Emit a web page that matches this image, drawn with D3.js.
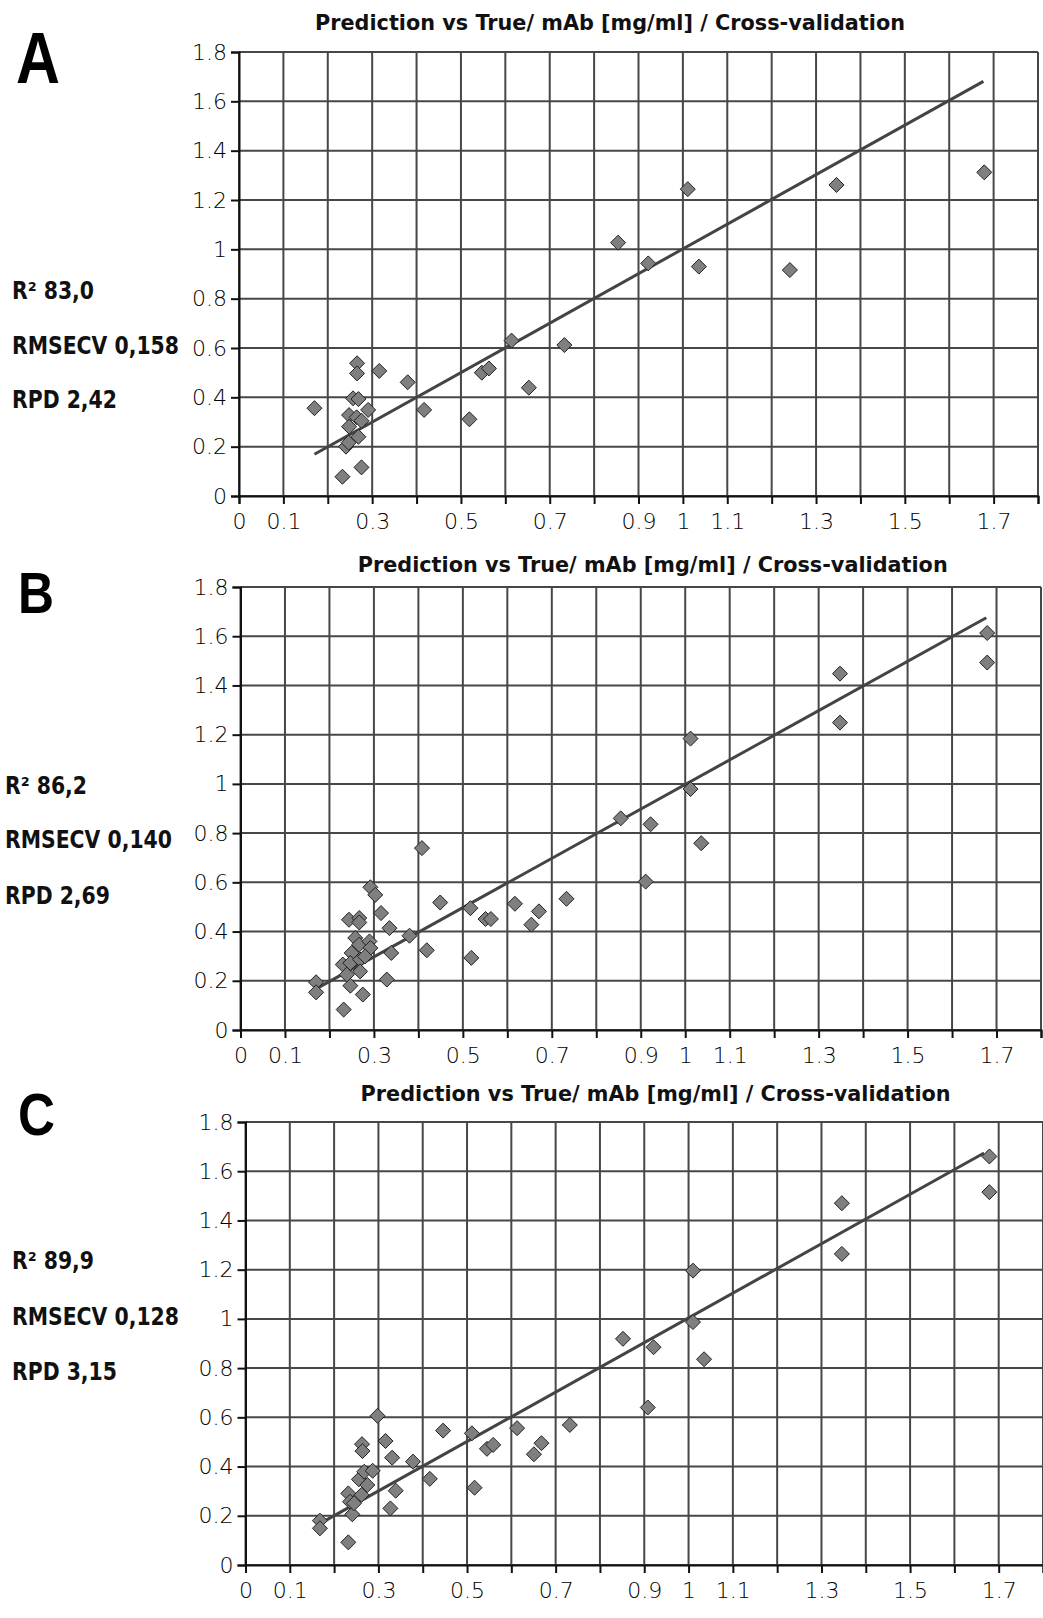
<!DOCTYPE html>
<html><head><meta charset="utf-8">
<script src="https://cdn.jsdelivr.net/npm/d3@7"></script>
<style>body{margin:0;background:#fff}svg{display:block}</style>
</head><body>
<script>
// ---------- data ----------
const chartTitle = "Prediction vs True/ mAb [mg/ml] / Cross-validation";
const panelLetters = ["A", "B", "C"];
const xGridValues = [0,0.1,0.2,0.3,0.4,0.5,0.6,0.7,0.8,0.9,1.0,1.1,1.2,1.3,1.4,1.5,1.6,1.7,1.8];
const yGridValues = [0,0.2,0.4,0.6,0.8,1.0,1.2,1.4,1.6,1.8];
const xTickValues = [0,0.1,0.3,0.5,0.7,0.9,1.0,1.1,1.3,1.5,1.7];
const xTickLabels = ["0","0.1","0.3","0.5","0.7","0.9","1","1.1","1.3","1.5","1.7"];
const yTickValues = [0,0.2,0.4,0.6,0.8,1.0,1.2,1.4,1.6,1.8];
const yTickLabels = ["0","0.2","0.4","0.6","0.8","1","1.2","1.4","1.6","1.8"];

const statsA = ["R\u00b2 83,0", "RMSECV 0,158", "RPD 2,42"];
const statsB = ["R\u00b2 86,2", "RMSECV 0,140", "RPD 2,69"];
const statsC = ["R\u00b2 89,9", "RMSECV 0,128", "RPD 3,15"];

// Panel A: true vs predicted
const trueA = [0.170,0.266,0.266,0.316,0.380,0.257,0.269,0.291,0.248,0.265,0.276,0.248,0.269,0.241,0.247,0.233,0.276,0.417,0.519,0.547,0.563,0.614,0.653,0.733,0.854,0.922,1.011,1.036,1.241,1.346,1.679];
const predA = [0.356,0.538,0.497,0.507,0.461,0.396,0.393,0.349,0.328,0.319,0.305,0.281,0.240,0.200,0.216,0.078,0.116,0.349,0.311,0.500,0.517,0.630,0.439,0.612,1.027,0.943,1.244,0.930,0.916,1.261,1.312];
const lineA = [[0.170, 0.169], [1.677, 1.681]];

// Panel B
const trueB = [0.170,0.170,0.232,0.230,0.244,0.247,0.275,0.267,0.267,0.258,0.267,0.250,0.247,0.269,0.269,0.239,0.290,0.292,0.280,0.292,0.303,0.316,0.335,0.339,0.329,0.380,0.408,0.419,0.449,0.517,0.519,0.551,0.563,0.617,0.654,0.671,0.733,0.855,0.922,0.911,1.012,1.012,1.036,1.348,1.348,1.679,1.679];
const predB = [0.194,0.153,0.083,0.266,0.448,0.180,0.144,0.455,0.437,0.374,0.347,0.313,0.272,0.286,0.238,0.225,0.360,0.333,0.299,0.580,0.549,0.475,0.414,0.313,0.205,0.383,0.739,0.324,0.518,0.495,0.293,0.451,0.451,0.513,0.428,0.482,0.533,0.860,0.836,0.603,1.184,0.979,0.759,1.448,1.249,1.613,1.493];
const lineB = [[0.170, 0.167], [1.677, 1.675]];

// Panel C
const trueC = [0.168,0.168,0.232,0.232,0.241,0.236,0.245,0.256,0.263,0.264,0.268,0.275,0.262,0.287,0.298,0.316,0.331,0.339,0.327,0.378,0.416,0.446,0.511,0.517,0.545,0.559,0.613,0.651,0.668,0.732,0.852,0.921,0.908,1.010,1.010,1.035,1.346,1.346,1.679,1.679];
const predC = [0.180,0.149,0.092,0.291,0.206,0.257,0.251,0.348,0.491,0.463,0.379,0.325,0.285,0.383,0.606,0.504,0.436,0.302,0.230,0.420,0.350,0.546,0.535,0.314,0.472,0.488,0.556,0.450,0.495,0.569,0.919,0.885,0.640,1.196,0.987,0.836,1.470,1.264,1.660,1.515];
const lineC = [[0.170, 0.170], [1.667, 1.674]];

// ---------- layout ----------
const W = 1043, H = 1618;
const panels = [
  {letter: panelLetters[0], xs: trueA, ys: predA, line: lineA, stats: statsA,
   x0: 239, x1: 1038, yBot: 496, yTop: 52,
   titleX: 610, titleY: 30,
   letterX: 16, letterY: 83, letterSize: 72, letterW: 44,
   statX: 12, statY: [299, 354, 408]},
  {letter: panelLetters[1], xs: trueB, ys: predB, line: lineB, stats: statsB,
   x0: 240.5, x1: 1041, yBot: 1030, yTop: 587,
   titleX: 652.7, titleY: 572,
   letterX: 18, letterY: 613, letterSize: 58, letterW: 36,
   statX: 5, statY: [794, 848, 904]},
  {letter: panelLetters[2], xs: trueC, ys: predC, line: lineC, stats: statsC,
   x0: 245.5, x1: 1043, yBot: 1565, yTop: 1122,
   titleX: 655.6, titleY: 1101,
   letterX: 18, letterY: 1135, letterSize: 60, letterW: 37,
   statX: 12, statY: [1269, 1325, 1380]}
];

const svg = d3.select("body").append("svg")
  .attr("width", W).attr("height", H)
  .attr("viewBox", `0 0 ${W} ${H}`);
svg.append("rect").attr("width", W).attr("height", H).attr("fill", "#fff");

const gridColor = "#474747";
const tickFont = "'DejaVu Sans', 'Liberation Sans', sans-serif";

panels.forEach(p => {
  const x = d3.scaleLinear().domain([0, 1.8]).range([p.x0, p.x1]);
  const y = d3.scaleLinear().domain([0, 1.8]).range([p.yBot, p.yTop]);
  const g = svg.append("g");

  // grid
  g.append("g").selectAll("line").data(xGridValues).join("line")
    .attr("x1", d => x(d)).attr("x2", d => x(d))
    .attr("y1", y(0)).attr("y2", y(1.8))
    .attr("stroke", gridColor).attr("stroke-width", 2);
  g.append("g").selectAll("line").data(yGridValues).join("line")
    .attr("x1", x(0)).attr("x2", x(1.8))
    .attr("y1", d => y(d)).attr("y2", d => y(d))
    .attr("stroke", gridColor).attr("stroke-width", 2);

  // x axis
  const xAxis = d3.axisBottom(x).tickValues(xGridValues).tickSize(8).tickFormat(() => "");
  const gx = g.append("g").attr("transform", `translate(0,${y(0)})`).call(xAxis);
  gx.select(".domain").attr("stroke", "#111").attr("stroke-width", 2);
  gx.selectAll(".tick line").attr("stroke", "#111").attr("stroke-width", 2);
  const xLab = d3.axisBottom(x).tickValues(xTickValues).tickSize(0).tickPadding(17)
    .tickFormat((d, i) => xTickLabels[i]);
  const gxl = g.append("g").attr("transform", `translate(0,${y(0)})`).call(xLab);
  gxl.select(".domain").remove();
  gxl.selectAll("text").attr("font-family", tickFont).attr("font-size", 22)
    .attr("font-weight", 200).attr("fill", "#000");

  // y axis
  const yAxis = d3.axisLeft(y).tickValues(yTickValues).tickSize(8).tickPadding(4)
    .tickFormat((d, i) => yTickLabels[i]);
  const gy = g.append("g").attr("transform", `translate(${x(0)},0)`).call(yAxis);
  gy.select(".domain").attr("stroke", "#111").attr("stroke-width", 2);
  gy.selectAll(".tick line").attr("stroke", "#111").attr("stroke-width", 2);
  gy.selectAll("text").attr("font-family", tickFont).attr("font-size", 22)
    .attr("font-weight", 200).attr("fill", "#000");

  // target line
  g.append("line")
    .attr("x1", x(p.line[0][0])).attr("y1", y(p.line[0][1]))
    .attr("x2", x(p.line[1][0])).attr("y2", y(p.line[1][1]))
    .attr("stroke", "#444").attr("stroke-width", 3);

  // diamonds
  const pts = p.xs.map((v, i) => [v, p.ys[i]]);
  const r = 7.5;
  g.append("g").selectAll("path").data(pts).join("path")
    .attr("transform", d => `translate(${x(d[0])},${y(d[1])})`)
    .attr("d", `M0,${-r}L${r},0L0,${r}L${-r},0Z`)
    .attr("fill", "#7f7f7f").attr("stroke", "#222").attr("stroke-width", 1);

  // title
  svg.append("text").attr("x", p.titleX).attr("y", p.titleY)
    .attr("text-anchor", "middle")
    .attr("font-family", "'DejaVu Sans', sans-serif").attr("font-weight", "bold")
    .attr("font-size", 21).attr("fill", "#111")
    .attr("textLength", 590).attr("lengthAdjust", "spacingAndGlyphs")
    .text(chartTitle);

  // panel letter
  svg.append("text").attr("x", p.letterX).attr("y", p.letterY)
    .attr("font-family", "'Liberation Sans', Arial, sans-serif").attr("font-weight", "bold")
    .attr("font-size", p.letterSize).attr("fill", "#000")
    .attr("textLength", p.letterW).attr("lengthAdjust", "spacingAndGlyphs")
    .text(p.letter);

  // stats
  p.stats.forEach((s, i) => {
    svg.append("text")
      .attr("transform", `translate(${p.statX},${p.statY[i]}) scale(0.85,1)`)
      .attr("font-family", "'DejaVu Sans', sans-serif").attr("font-weight", "bold")
      .attr("font-size", 24).attr("fill", "#111")
      .text(s);
  });
});
</script>
</body></html>
